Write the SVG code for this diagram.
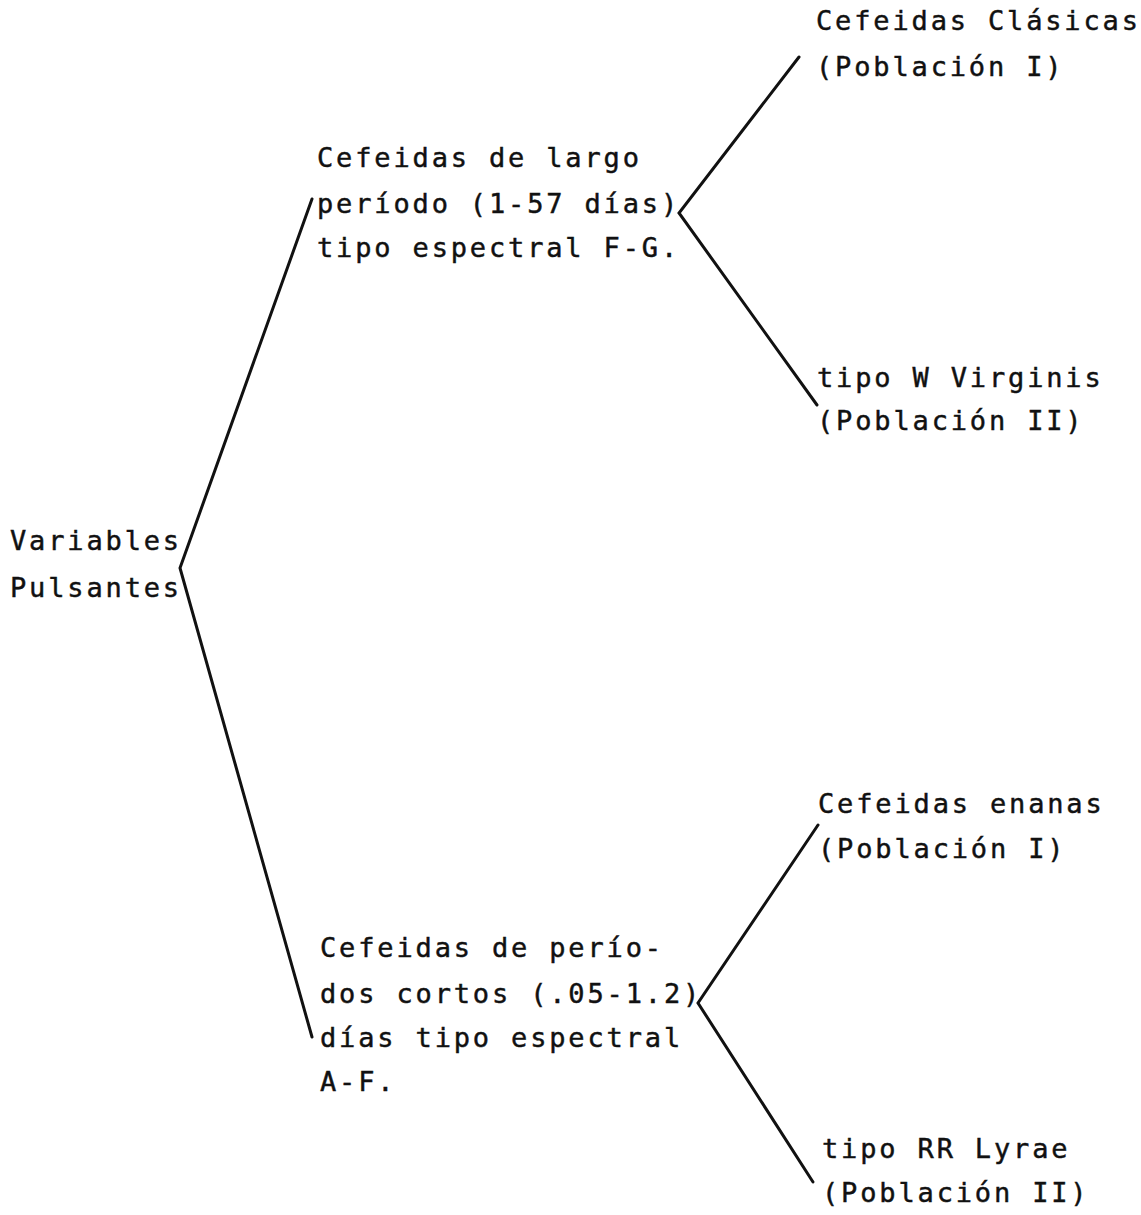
<svg xmlns="http://www.w3.org/2000/svg" width="1141" height="1215" viewBox="0 0 1141 1215">
  <style>
    .t { font-family: "DejaVu Sans Mono", "Liberation Mono", monospace; font-size: 27px; letter-spacing: 2.85px; fill: #111; stroke: #111; stroke-width: 0.45; }
    .c { stroke: #111; stroke-width: 3; fill: none; stroke-linecap: round; stroke-linejoin: miter; }
  </style>
  <rect width="1141" height="1215" fill="#fff"/>

  <!-- branching lines -->
  <g id="connectors">
    <polyline class="c" points="312,199 180,568 312,1037"/>
    <polyline class="c" points="799,57 679,213 817,405"/>
    <polyline class="c" points="818,825 698,1003 813,1182"/>
  </g>

  <g id="root">
    <text class="t" x="10" y="550">Variables</text>
    <text class="t" x="10" y="597">Pulsantes</text>
  </g>

  <g id="long-period">
    <text class="t" x="317" y="167">Cefeidas de largo</text>
    <text class="t" x="317" y="213">período (1-57 días)</text>
    <text class="t" x="317" y="257">tipo espectral F-G.</text>
  </g>

  <g id="classical">
    <text class="t" x="816" y="30">Cefeidas Clásicas</text>
    <text class="t" x="816" y="76">(Población I)</text>
  </g>

  <g id="w-virginis">
    <text class="t" x="817" y="387">tipo W Virginis</text>
    <text class="t" x="817" y="430">(Población II)</text>
  </g>

  <g id="short-period">
    <text class="t" x="320" y="957">Cefeidas de perío-</text>
    <text class="t" x="320" y="1003">dos cortos (.05-1.2)</text>
    <text class="t" x="320" y="1047">días tipo espectral</text>
    <text class="t" x="320" y="1091">A-F.</text>
  </g>

  <g id="dwarf">
    <text class="t" x="818" y="813">Cefeidas enanas</text>
    <text class="t" x="818" y="858">(Población I)</text>
  </g>

  <g id="rr-lyrae">
    <text class="t" x="822" y="1158">tipo RR Lyrae</text>
    <text class="t" x="822" y="1202">(Población II)</text>
  </g>
</svg>
